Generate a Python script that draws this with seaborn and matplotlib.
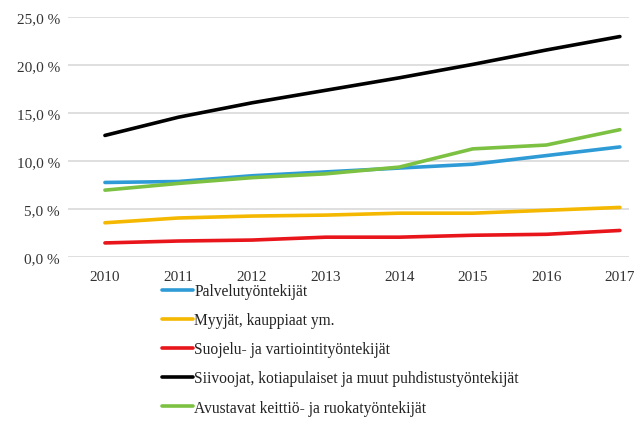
import numpy as np
import pandas as pd
import seaborn as sns
import matplotlib.pyplot as plt
from matplotlib import ticker

years = [2010, 2011, 2012, 2013, 2014, 2015, 2016, 2017]
palvelu = [7.8, 7.9, 8.5, 8.9, 9.3, 9.7, 10.6, 11.5]
myyjat = [3.6, 4.1, 4.3, 4.4, 4.6, 4.6, 4.9, 5.2]
suojelu = [1.5, 1.7, 1.8, 2.1, 2.1, 2.3, 2.4, 2.8]
siivoojat = [12.7, 14.6, 16.1, 17.4, 18.7, 20.1, 21.6, 23.0]
avustavat = [7.0, 7.7, 8.3, 8.7, 9.4, 11.3, 11.7, 13.3]

labels = ['Palvelutyöntekijät', 'Myyjät, kauppiaat ym.', 'Suojelu- ja vartiointityöntekijät',
          'Siivoojat, kotiapulaiset ja muut puhdistustyöntekijät', 'Avustavat keittiö- ja ruokatyöntekijät']
colors = ['#2e9bd6', '#f5b800', '#e8151b', '#000000', '#7cc142']

rows = []
for lab, vals in zip(labels, [palvelu, myyjat, suojelu, siivoojat, avustavat]):
    for y, v in zip(years, vals):
        rows.append({'year': y, 'value': v, 'group': lab})
df = pd.DataFrame(rows)

sns.set_style('white')
plt.rcParams['font.family'] = ['Liberation Serif', 'DejaVu Serif']

fig = plt.figure(figsize=(6.37, 4.27), dpi=100)
ax = fig.add_axes([0.107, 0.395, 0.88, 0.562])
sns.lineplot(data=df, x='year', y='value', hue='group', hue_order=labels,
             palette=colors, linewidth=2.6, ax=ax, legend=False)

ax.set_ylim(0, 25)
ax.set_xlim(2010 - 0.5, 2017 + 0.12)
ax.yaxis.set_major_locator(ticker.MultipleLocator(5))
ax.yaxis.set_major_formatter(ticker.FuncFormatter(lambda v, p: f'{v:.1f}'.replace('.', ',') + ' %'))
ax.set_xticks(years)
ax.grid(axis='y', color='#d9d9d9', linewidth=1.2)
for s in ax.spines.values():
    s.set_visible(False)
ax.tick_params(axis='both', length=0, labelsize=11, colors='#333333')
ax.tick_params(axis='x', pad=9)
ax.tick_params(axis='y', pad=6)
ax.set_xlabel(None)
ax.set_ylabel(None)

handles = [plt.Line2D([], [], color=c, linewidth=2.6) for c in colors]
fig.legend(handles, labels, loc='upper left', bbox_to_anchor=(0.232, 0.367), frameon=False,
           fontsize=11.2, handlelength=2.0, handletextpad=0.1, labelspacing=0.84,
           labelcolor='#222222')

fig.savefig('out.png', dpi=100)
